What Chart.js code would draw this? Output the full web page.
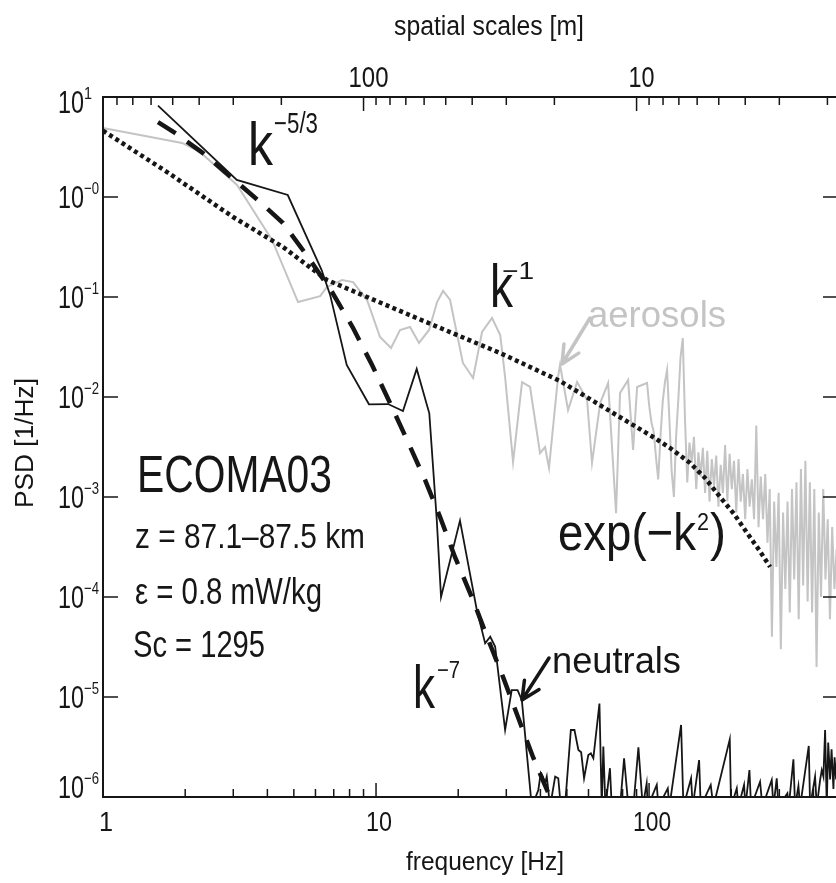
<!DOCTYPE html>
<html>
<head>
<meta charset="utf-8">
<style>
  html, body { margin: 0; padding: 0; background: #fff; overflow: hidden; }
  canvas { display: block; }
</style>
<script src="https://cdn.jsdelivr.net/npm/chart.js@4"></script>
</head>
<body>
<canvas id="psdChart" width="840" height="883"></canvas>
<script>
// neutral density fluctuations (black solid)
const neutralFreq = [
  1.59, 3.09, 4.75, 6.32, 6.79, 7.81, 9.42, 11.07, 12.55, 14.09,
  15.67, 16.69, 17.3, 20.3, 23.4, 25.1, 26.2, 27.3, 29.7, 31.4,
  33.0, 34.2, 37.2,
  39.3, 40.1, 40.8, 41.6, 42.2, 43.4, 45.3, 46.5, 47.5, 49.2,
  51.7, 53.3, 55.1, 56.4, 57.8, 59.9, 61.2, 62.5, 65.8, 67.1,
  68.0, 69.2, 71.9, 73.0, 78.3, 81.0, 84.0, 87.6, 91.4, 94.8,
  98.0, 98.9, 106.7, 108.2, 117.1, 118.7, 131.0, 133.6, 142.5, 144.5,
  152.5, 154.6, 168.2, 172.0, 197.5, 199.7, 209.5, 212.4, 222.8, 225.4,
  233.1, 236.4, 255.0, 260.1, 281.4, 285.4, 293.5, 297.7, 321.1, 324.8,
  337.8, 342.6, 352.4, 357.4, 384.5, 388.9, 405.5, 411.4, 423.1, 429.1,
  435.1, 441.3, 447.5, 453, 460.3, 466, 473.4, 478, 484.2, 490
];
const neutralPsd = [
  8.19, 1.48, 1.047, 0.186, 0.105, 0.0209, 0.00845, 0.0085, 0.00724, 0.0191,
  0.00687, 5.89e-4, 1.0e-4, 5.8e-4, 7.4e-5, 3.44e-5, 4.0e-5, 3.2e-5, 4.7e-6, 1.17e-5,
  1.17e-5, 9.3e-6, 8e-7,
  1.17e-6, 1.74e-6, 1.6e-6, 1.37e-6, 1.6e-6, 8e-7, 1.6e-6, 1.54e-6, 8e-7, 8e-7,
  4.68e-6, 4.68e-6, 2.95e-6, 2.8e-6, 1.54e-6, 2.63e-6, 2.73e-6, 2.44e-6, 8.6e-6, 8e-7,
  3.19e-6, 8e-7, 1.94e-6, 8e-7, 8e-7, 2.44e-6, 8e-7, 8e-7, 3.14e-6, 8e-7,
  1.37e-6, 8e-7, 1.32e-6, 8e-7, 1.22e-6, 8e-7, 5.25e-6, 8e-7, 1.54e-6, 8e-7,
  2.34e-6, 8e-7, 1.32e-6, 8e-7, 3.77e-6, 8e-7, 1.22e-6, 8e-7, 1.32e-6, 8e-7,
  1.86e-6, 8e-7, 1.42e-6, 8e-7, 1.48e-6, 8e-7, 1.54e-6, 8e-7, 1.09e-6, 8e-7,
  2.38e-6, 8e-7, 1.29e-6, 8e-7, 3.24e-6, 8e-7, 1.6e-6, 8e-7, 1.48e-6, 1.86e-6,
  1.6e-6, 4.68e-6, 8e-7, 3.5e-6, 1.5e-6, 3e-6, 1.2e-6, 2.5e-6, 1.5e-6, 3e-6
];

// aerosol (charged particle) fluctuations (grey)
const aerosolFreq = [
  1.0, 1.947, 2.266, 3.097, 4.16, 5.18, 6.24, 6.61, 7.51, 8.24,
  9.27, 10.34, 11.35, 12.24, 13.32, 14.37, 15.64, 16.73, 17.6, 18.67,
  20.8, 22.67, 24.45, 26.6, 28.5, 29.7, 31.76, 34.26, 36.65, 37.6,
  39.87, 41.6, 43.0, 46.4, 47.2, 50.5, 54.5, 59.3, 61.8, 66.2,
  70.8, 75.7, 78.3, 83.8, 87.4, 90.4,
  98.3, 100.2, 102.1, 104.0, 106.0, 108.0, 110.1, 112.2, 114.3, 116.4,
  118.7, 121.0, 123.3, 125.6, 128.0, 130.4, 132.9, 135.4, 138.0, 140.6,
  143.3, 146.0, 148.8, 151.6, 154.5, 157.4, 160.4, 163.4, 166.5, 169.7,
  172.9, 176.2, 179.5, 182.9, 186.4, 189.9, 193.5, 197.2, 200.9, 204.7,
  208.6, 212.6, 216.6, 220.7, 224.9, 229.2, 233.5, 237.9, 242.4, 247.0,
  251.7, 256.5, 261.4, 266.4, 271.4, 276.6, 281.8, 287.1, 292.6, 298.2,
  303.8, 309.6, 315.5, 321.5, 327.6, 333.8, 340.1, 346.6, 353.2, 359.9,
  366.7, 373.7, 380.8, 388.0, 395.4, 402.9, 410.6, 418.4, 426.3, 434.4,
  442.7, 451.1, 459.7, 468.4, 477.3, 486.4, 495.6
];
const aerosolPsd = [
  4.9, 3.47, 2.82, 1.318, 0.372, 0.0891, 0.102, 0.126, 0.148, 0.141,
  0.0933, 0.0398, 0.0309, 0.0468, 0.0501, 0.0347, 0.0468, 0.0891, 0.115, 0.0933,
  0.0219, 0.0155, 0.0447, 0.0617, 0.0417, 0.0158, 0.00224, 0.0141, 0.0126, 0.00794,
  0.00275, 0.00316, 0.00195, 0.0158, 0.0209, 0.00741, 0.0141, 0.00933, 0.00219, 0.0087,
  0.0138, 6.9e-4, 0.011, 0.0148, 0.00295, 0.0126,
  0.0138, 0.008, 0.0055, 0.0045, 0.0025, 0.0015, 0.004, 0.009, 0.014, 0.0186,
  0.006, 0.0018, 0.001, 0.004, 0.0095, 0.025, 0.0389, 0.006, 0.0014, 0.0035,
  0.0022, 0.004, 0.0012, 0.0028, 0.0016, 0.0031, 0.0011, 0.0029, 0.0009, 0.0024,
  0.0013, 0.0026, 0.0008, 0.0021, 0.0011, 0.0033, 0.0009, 0.0027, 0.0012, 0.0023,
  0.0007, 0.0024, 0.0009, 0.0017, 0.0006, 0.0019, 0.0008, 0.0015, 0.0006, 0.0052,
  0.0005, 0.0016, 0.0006, 0.0017, 0.00035, 0.0012, 0.00004, 0.0009, 0.0002, 0.0011,
  0.00003, 0.0007, 0.00012, 0.0009, 0.00007, 0.0012, 0.00015, 0.0014, 0.00006, 0.0019,
  0.00013, 0.0023, 0.00009, 0.0014, 0.00007, 0.0012, 0.00002, 0.0007, 0.0001, 0.0012,
  0.00015, 0.0006, 0.00006, 0.0005, 0.00012, 0.0003, 0.0001
];

// model fit for neutrals, k^-5/3 -> k^-7 (dashed)
const neutralFitFreq = [1.59, 1.835, 2.324, 2.969, 3.759, 4.563, 5.635, 6.90, 8.24, 9.67, 11.25,
  12.99, 15.12, 17.16, 19.47, 22.67, 25.5, 29.2, 33.1, 37.6, 42.3, 44.1];
const neutralFitPsd = [5.62, 4.37, 2.75, 1.55, 0.891, 0.55, 0.251, 0.112, 0.049, 0.0209, 0.0087,
  0.00372, 1.48e-3, 6.3e-4, 2.5e-4, 9.3e-5, 4.0e-5, 1.58e-5, 6.3e-6, 2.5e-6, 1.17e-6, 9.3e-7];

// model fit for aerosols, k^-1 -> exp(-k^2) (dotted)
const aerosolFitFreq = [1.0, 1.716, 2.994, 4.563, 6.61, 9.27, 16.18, 28.5, 47.2, 73.8,
  103.4, 119.4, 141.3, 160.3, 182, 204.8, 228.5, 253, 277.5];
const aerosolFitPsd = [4.6, 1.778, 0.631, 0.316, 0.148, 0.100, 0.0525, 0.0275, 0.01445, 0.00692,
  0.00398, 0.00309, 0.00219, 0.00155, 0.001, 6.76e-4, 4.37e-4, 2.95e-4, 2.0e-4];

// axes
const freqMin = 1, freqMax = 492;
const psdMin = 1e-6, psdMax = 10;
const psdExponents = [1, 0, -1, -2, -3, -4, -5, -6];
const freqLabels = [1, 10, 100];
const freqMinor = [2, 3, 4, 5, 6, 7, 8, 9, 20, 30, 40, 50, 60, 70, 80, 90, 200, 300, 400];
const rocketSpeed = 900; // m/s, spatial scale = speed / frequency
const spatialLabels = [100, 10];
const spatialMinor = [800, 700, 600, 500, 400, 300, 200, 90, 80, 70, 60, 50, 40, 30, 20, 9, 8, 7, 6, 5, 4, 3, 2];

const INK = '#161616';
const GREY = '#c4c4c4';
const FONT = '"Liberation Sans", Arial, sans-serif';

function toXY(xs, ys) {
  return xs.map((v, i) => ({ x: v, y: ys[i] }));
}

// draw text squeezed to a given width (the original uses a narrow face)
function fitText(ctx, str, x, base, w, size, color) {
  ctx.save();
  ctx.font = size + 'px ' + FONT;
  const m = ctx.measureText(str).width;
  ctx.translate(x, base);
  ctx.scale(w / m, 1);
  ctx.fillStyle = color || INK;
  ctx.textAlign = 'left';
  ctx.textBaseline = 'alphabetic';
  ctx.fillText(str, 0, 0);
  ctx.restore();
}

function arrow(ctx, x1, y1, x2, y2, color, width, head) {
  const ang = Math.atan2(y2 - y1, x2 - x1);
  ctx.save();
  ctx.strokeStyle = color;
  ctx.lineWidth = width;
  ctx.lineCap = 'round';
  ctx.lineJoin = 'round';
  ctx.beginPath();
  ctx.moveTo(x1, y1);
  ctx.lineTo(x2, y2);
  ctx.moveTo(x2 - head * Math.cos(ang - 0.45), y2 - head * Math.sin(ang - 0.45));
  ctx.lineTo(x2, y2);
  ctx.lineTo(x2 - head * Math.cos(ang + 0.45), y2 - head * Math.sin(ang + 0.45));
  ctx.stroke();
  ctx.restore();
}

const framePlugin = {
  id: 'frame',
  afterDatasetsDraw(chart) {
    const { ctx, chartArea: a, scales: { x, y } } = chart;
    ctx.save();
    ctx.strokeStyle = INK;
    ctx.lineWidth = 2;
    ctx.strokeRect(a.left, a.top, a.right - a.left, a.bottom - a.top);

    ctx.lineWidth = 1.5;
    const vtick = (px, y0, len) => {
      ctx.beginPath(); ctx.moveTo(px, y0); ctx.lineTo(px, y0 + len); ctx.stroke();
    };
    const htick = (py, x0, len) => {
      ctx.beginPath(); ctx.moveTo(x0, py); ctx.lineTo(x0 + len, py); ctx.stroke();
    };
    // bottom: frequency
    freqLabels.forEach(v => vtick(x.getPixelForValue(v), a.bottom, -14));
    freqMinor.forEach(v => vtick(x.getPixelForValue(v), a.bottom, -8));
    // top: spatial scales
    spatialLabels.forEach(s => vtick(x.getPixelForValue(rocketSpeed / s), a.top, 14));
    spatialMinor.forEach(s => {
      const f = rocketSpeed / s;
      if (f >= freqMin && f <= freqMax) vtick(x.getPixelForValue(f), a.top, 8);
    });
    // left / right: PSD decades
    psdExponents.forEach(e => {
      const py = y.getPixelForValue(Math.pow(10, e));
      htick(py, a.left, 15);
      htick(py, a.right, -15);
    });
    ctx.restore();
  },
  afterDraw(chart) {
    const { ctx, chartArea: a, scales: { x, y } } = chart;

    // y tick labels
    psdExponents.forEach(e => {
      let base = y.getPixelForValue(Math.pow(10, e)) + 11;
      if (e === 1) base = a.top + 16;
      if (e === -6) base = a.bottom + 1;
      fitText(ctx, '10', 58, base, 26, 32);
      const sup = e === 1 ? '1' : '\u2212' + Math.abs(e);
      fitText(ctx, sup, 84, base - 14, e === 1 ? 8 : 15, 17);
    });
    // bottom tick labels
    const bw = { 1: 14, 10: 26, 100: 38 };
    freqLabels.forEach(v => {
      const px = x.getPixelForValue(v) + 3;
      fitText(ctx, String(v), px - bw[v] / 2, a.bottom + 34, bw[v], 28);
    });
    // top tick labels
    const tw = { 100: 40, 10: 26 };
    spatialLabels.forEach(s => {
      const px = x.getPixelForValue(rocketSpeed / s) + 5;
      fitText(ctx, String(s), px - tw[s] / 2, a.top - 10, tw[s], 30);
    });

    // axis titles
    fitText(ctx, 'spatial scales [m]', 394, 35, 190, 27);
    fitText(ctx, 'frequency [Hz]', 406, 870, 158, 26);
    ctx.save();
    ctx.translate(33, 508);
    ctx.rotate(-Math.PI / 2);
    fitText(ctx, 'PSD [1/Hz]', 0, 0, 130, 25);
    ctx.restore();

    // annotations
    fitText(ctx, 'k', 248, 165, 25, 62);
    fitText(ctx, '\u22125/3', 274, 133, 44, 29);
    fitText(ctx, 'k', 490, 307, 23, 62);
    fitText(ctx, '\u22121', 502, 279, 32, 24);
    fitText(ctx, 'k', 413, 708, 22, 62);
    fitText(ctx, '\u22127', 437, 678, 23, 24);

    fitText(ctx, 'exp(\u2212k', 558, 550, 138, 52);
    fitText(ctx, '2', 697, 530, 12, 24);
    fitText(ctx, ')', 710, 550, 16, 52);

    fitText(ctx, 'aerosols', 588, 327, 138, 37, GREY);
    arrow(ctx, 590, 318, 562, 364, GREY, 3.5, 20);

    fitText(ctx, 'neutrals', 552, 673, 129, 36);
    arrow(ctx, 549, 658, 522, 700, INK, 3.5, 20);

    fitText(ctx, 'ECOMA03', 137, 492, 195, 52);
    fitText(ctx, 'z = 87.1\u201387.5 km', 135, 548, 230, 35);
    fitText(ctx, '\u03b5 = 0.8 mW/kg', 135, 604, 187, 36);
    fitText(ctx, 'Sc = 1295', 133, 657, 132, 36);
  }
};

const ctx = document.getElementById('psdChart').getContext('2d');

new Chart(ctx, {
  type: 'line',
  data: {
    datasets: [
      {
        label: 'k^-1 / exp(-k^2) fit',
        data: toXY(aerosolFitFreq, aerosolFitPsd),
        borderColor: INK, borderWidth: 4.5, borderDash: [4, 3.4],
        pointRadius: 0, order: 1
      },
      {
        label: 'k^-5/3 / k^-7 fit',
        data: toXY(neutralFitFreq, neutralFitPsd),
        borderColor: INK, borderWidth: 4.5, borderDash: [21, 14],
        pointRadius: 0, order: 2
      },
      {
        label: 'neutrals',
        data: toXY(neutralFreq, neutralPsd),
        borderColor: INK, borderWidth: 1.8,
        pointRadius: 0, order: 3
      },
      {
        label: 'aerosols',
        data: toXY(aerosolFreq, aerosolPsd),
        borderColor: GREY, borderWidth: 2,
        pointRadius: 0, order: 4
      }
    ]
  },
  options: {
    responsive: false,
    animation: false,
    devicePixelRatio: 1,
    layout: { padding: { left: 103, top: 97, right: 2, bottom: 86 } },
    elements: { line: { tension: 0, borderJoinStyle: 'miter' } },
    plugins: { legend: { display: false }, tooltip: { enabled: false } },
    scales: {
      x: { type: 'logarithmic', min: freqMin, max: freqMax, display: false },
      y: { type: 'logarithmic', min: psdMin, max: psdMax, display: false }
    }
  },
  plugins: [framePlugin]
});
</script>
</body>
</html>
